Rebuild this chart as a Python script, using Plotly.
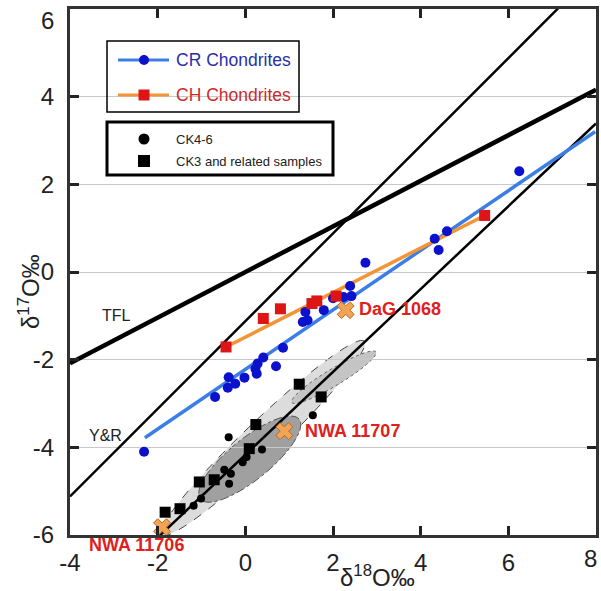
import numpy as np
import plotly.graph_objects as go

# ---------------- data ----------------
cr_x = [-2.31, -0.69, -0.40, -0.38, -0.23, -0.02, 0.23, 0.26, 0.28, 0.41, 0.70, 0.86,
        1.31, 1.42, 1.37, 1.79, 2.00, 2.24, 2.42, 2.39, 2.74, 4.32, 4.41, 4.60, 6.25]
cr_y = [-4.10, -2.85, -2.64, -2.40, -2.55, -2.41, -2.21, -2.32, -2.09, -1.95, -2.15, -1.73,
        -1.14, -1.10, -0.91, -0.87, -0.60, -0.57, -0.55, -0.32, 0.21, 0.76, 0.50, 0.93, 2.30]
cr_fit_x = [-2.29, 7.98]
cr_fit_y = [-3.78, 3.20]

ch_x = [-0.44, 0.41, 0.80, 1.52, 1.63, 2.07, 5.46]
ch_y = [-1.71, -1.06, -0.84, -0.72, -0.66, -0.55, 1.29]
ch_fit_x = [-0.44, 5.46]
ch_fit_y = [-1.71, 1.29]

ck46_x = [-0.38, 1.54, 0.38, 0.03, -0.06, -0.48, -0.33, -0.37, -1.01, -1.18]
ck46_y = [-3.77, -3.27, -4.05, -4.22, -4.34, -4.51, -4.60, -4.83, -5.17, -5.33]

ck3_x = [1.23, 1.73, 0.24, 0.09, -1.05, -0.71, -1.49, -1.83]
ck3_y = [-2.56, -2.85, -3.48, -4.03, -4.79, -4.74, -5.40, -5.48]

sample_names = ["NWA 11706", "NWA 11707", "DaG 1068"]
sample_x = [-1.90, 0.89, 2.29]
sample_y = [-5.82, -3.63, -0.87]

# reference lines: (slope, intercept)
tfl_line = (0.52, 0.0)
yr_line = (1.0, -1.12)
ccam_line = (0.945, -4.17)

x_ticks = [-4, -2, 0, 2, 4, 6, 8]
y_ticks = [-6, -4, -2, 0, 2, 4, 6]

# ---------------- layout geometry ----------------
W, H = 601, 591
ML, MR, MT, MB = 70, 5, 9, 56
PW, PH = W - ML - MR, H - MT - MB
FONT = "Liberation Sans, Arial"


def P(px, py):
    """pixel -> paper coordinates"""
    return (px - ML) / PW, (H - MB - py) / PH


def ellipse_path(cx, cy, a, b, ang, n=72):
    t = np.linspace(0, 2 * np.pi, n)
    c, s = np.cos(np.radians(ang)), np.sin(np.radians(ang))
    xs = cx + a * np.cos(t) * c - b * np.sin(t) * s
    ys = cy + a * np.cos(t) * s + b * np.sin(t) * c
    return "M " + " L ".join(f"{x:.4f},{y:.4f}" for x, y in zip(xs, ys)) + " Z"


fig = go.Figure()

shapes = []
# gray fields
shapes.append(dict(type="path", path=ellipse_path(0.40, -3.79, 3.2, 0.40, 43.7),
                   xref="x", yref="y", fillcolor="#dcdcdc",
                   line=dict(color="#444", width=1, dash="dash"), layer="below"))
shapes.append(dict(type="path", path=ellipse_path(2.02, -2.40, 1.12, 0.19, 31),
                   xref="x", yref="y", fillcolor="#c4c4c4",
                   line=dict(color="#666", width=1, dash="dot"), layer="below"))
shapes.append(dict(type="path", path=ellipse_path(0.10, -4.27, 1.45, 0.47, 39),
                   xref="x", yref="y", fillcolor="#a0a0a0",
                   line=dict(color="#555", width=1, dash="dashdot"), layer="below"))

# reference lines
xr = np.array([-4.0, 8.0])
for (m, c), w in [(tfl_line, 4.5), (yr_line, 2.5), (ccam_line, 2.5)]:
    fig.add_trace(go.Scatter(x=xr, y=m * xr + c, mode="lines",
                             line=dict(color="black", width=w), hoverinfo="skip",
                             showlegend=False))

# fits
fig.add_trace(go.Scatter(x=cr_fit_x, y=cr_fit_y, mode="lines",
                         line=dict(color="#3a7ee6", width=3.5), showlegend=False))
fig.add_trace(go.Scatter(x=ch_fit_x, y=ch_fit_y, mode="lines",
                         line=dict(color="#f39536", width=3.5), showlegend=False))

# CK points
fig.add_trace(go.Scatter(x=ck46_x, y=ck46_y, mode="markers",
                         marker=dict(symbol="circle", size=8, color="black"), showlegend=False))
fig.add_trace(go.Scatter(x=ck3_x, y=ck3_y, mode="markers",
                         marker=dict(symbol="square", size=11, color="black"), showlegend=False))

# chondrite points
fig.add_trace(go.Scatter(x=cr_x, y=cr_y, mode="markers",
                         marker=dict(symbol="circle", size=10, color="#0c12cc"), showlegend=False))
fig.add_trace(go.Scatter(x=ch_x, y=ch_y, mode="markers",
                         marker=dict(symbol="square", size=11, color="#dd1515"), showlegend=False))

# samples
fig.add_trace(go.Scatter(x=sample_x, y=sample_y, mode="markers",
                         marker=dict(symbol="x", size=15, color="#f3a354",
                                     line=dict(color="#b86a20", width=1)),
                         showlegend=False, cliponaxis=False))

annotations = []
offsets = [(-26, -18, "center"), (19, 0, "left"), (11, 1, "left")]
for name, x, y, (dx, dy, anc) in zip(sample_names, sample_x, sample_y, offsets):
    annotations.append(dict(x=x, y=y, xref="x", yref="y", text=f"<b>{name}</b>",
                            showarrow=False, xanchor=anc, yanchor="middle",
                            xshift=dx, yshift=dy,
                            font=dict(family=FONT, size=18, color="#e0201c")))

annotations.append(dict(x=-2.93, y=-0.99, xref="x", yref="y", text="TFL", showarrow=False,
                        font=dict(family=FONT, size=16, color="#222")))
annotations.append(dict(x=-3.2, y=-3.73, xref="x", yref="y", text="Y&amp;R", showarrow=False,
                        font=dict(family=FONT, size=16, color="#222")))

# ---------------- manual legends ----------------
x0, y0 = P(107, 112)
x1, y1 = P(299, 41)
shapes.append(dict(type="rect", xref="paper", yref="paper", x0=x0, y0=y0, x1=x1, y1=y1,
                   line=dict(color="black", width=1.5), fillcolor="rgba(255,255,255,0)",
                   layer="above"))
x0, y0 = P(107, 175)
x1, y1 = P(333, 122)
shapes.append(dict(type="rect", xref="paper", yref="paper", x0=x0, y0=y0, x1=x1, y1=y1,
                   line=dict(color="black", width=3), fillcolor="rgba(255,255,255,0)",
                   layer="above"))

legend_rows = [
    ("CR Chondrites", 60, "#3a7ee6", "circle", "#0c12cc", "#2a2fa8"),
    ("CH Chondrites", 95, "#f39536", "rect", "#dd1515", "#cc2a2a"),
]
for text, py, lc, msym, mc, tc in legend_rows:
    a, b = P(118, py)
    c, _ = P(169, py)
    shapes.append(dict(type="line", xref="paper", yref="paper", x0=a, x1=c, y0=b, y1=b,
                       line=dict(color=lc, width=3)))
    mx, my = P(144, py)
    r = 5 if msym == "circle" else 5.5
    shapes.append(dict(type=msym, xref="paper", yref="paper", xsizemode="pixel",
                       ysizemode="pixel", xanchor=mx, yanchor=my, x0=-r, x1=r, y0=-r, y1=r,
                       fillcolor=mc, line=dict(color=mc, width=0)))
    tx, ty = P(174, py)
    annotations.append(dict(x=tx, y=ty, xref="paper", yref="paper", text=text,
                            showarrow=False, xanchor="left", yanchor="middle",
                            font=dict(family=FONT, size=17.5, color=tc)))

legend2_rows = [("CK4-6", 139, "circle", 5.5), ("CK3 and related samples", 161, "rect", 6)]
for text, py, msym, r in legend2_rows:
    mx, my = P(144, py)
    shapes.append(dict(type=msym, xref="paper", yref="paper", xsizemode="pixel",
                       ysizemode="pixel", xanchor=mx, yanchor=my, x0=-r, x1=r, y0=-r, y1=r,
                       fillcolor="black", line=dict(color="black", width=0)))
    tx, ty = P(174, py)
    annotations.append(dict(x=tx, y=ty, xref="paper", yref="paper", text=text,
                            showarrow=False, xanchor="left", yanchor="middle",
                            font=dict(family=FONT, size=13, color="#222")))

# edge tick labels, nudged inside the picture as in the reference
tx, ty = P(56, 20)
annotations.append(dict(x=tx, y=ty, xref="paper", yref="paper", text=str(y_ticks[-1]),
                        showarrow=False, xanchor="right", yanchor="middle",
                        font=dict(family=FONT, size=24, color="#222")))
tx, ty = P(590, 558)
annotations.append(dict(x=tx, y=ty, xref="paper", yref="paper", text=str(x_ticks[-1]),
                        showarrow=False, xanchor="center", yanchor="middle",
                        font=dict(family=FONT, size=24, color="#222")))

# axis titles
tx, ty = P(377, 576)
annotations.append(dict(x=tx, y=ty, xref="paper", yref="paper",
                        text="δ<sup>18</sup>O‰", showarrow=False,
                        xanchor="center", yanchor="middle",
                        font=dict(family=FONT, size=24, color="#222")))
tx, ty = P(29, 292)
annotations.append(dict(x=tx, y=ty, xref="paper", yref="paper",
                        text="δ<sup>17</sup>O‰", showarrow=False, textangle=-90,
                        xanchor="center", yanchor="middle",
                        font=dict(family=FONT, size=24, color="#222")))

axis_common = dict(showline=True, linewidth=3, linecolor="#333", mirror="allticks",
                   ticks="inside", ticklen=9, tickwidth=2.5, tickcolor="#222",
                   zeroline=False, automargin=False,
                   tickfont=dict(family=FONT, size=24, color="#222"))

fig.update_layout(
    width=W, height=H,
    margin=dict(l=ML, r=MR, t=MT, b=MB, pad=0, autoexpand=False),
    paper_bgcolor="white", plot_bgcolor="white",
    showlegend=False,
    shapes=shapes,
    annotations=annotations,
    xaxis=dict(range=[-4, 8], tickvals=x_ticks,
               ticktext=[str(v) for v in x_ticks[:-1]] + [" "],
               showgrid=False, ticklabelstandoff=4, **axis_common),
    yaxis=dict(range=[-6, 6], tickvals=y_ticks,
               ticktext=[str(v) for v in y_ticks[:-1]] + [" "],
               showgrid=True, gridcolor="#c8c8c8", gridwidth=1, ticklabelstandoff=8,
               **axis_common),
)

fig.write_html("out.html",
               config={"displayModeBar": False},
               post_script="document.body.style.margin='0px';"
                           "document.body.style.overflow='hidden';")
